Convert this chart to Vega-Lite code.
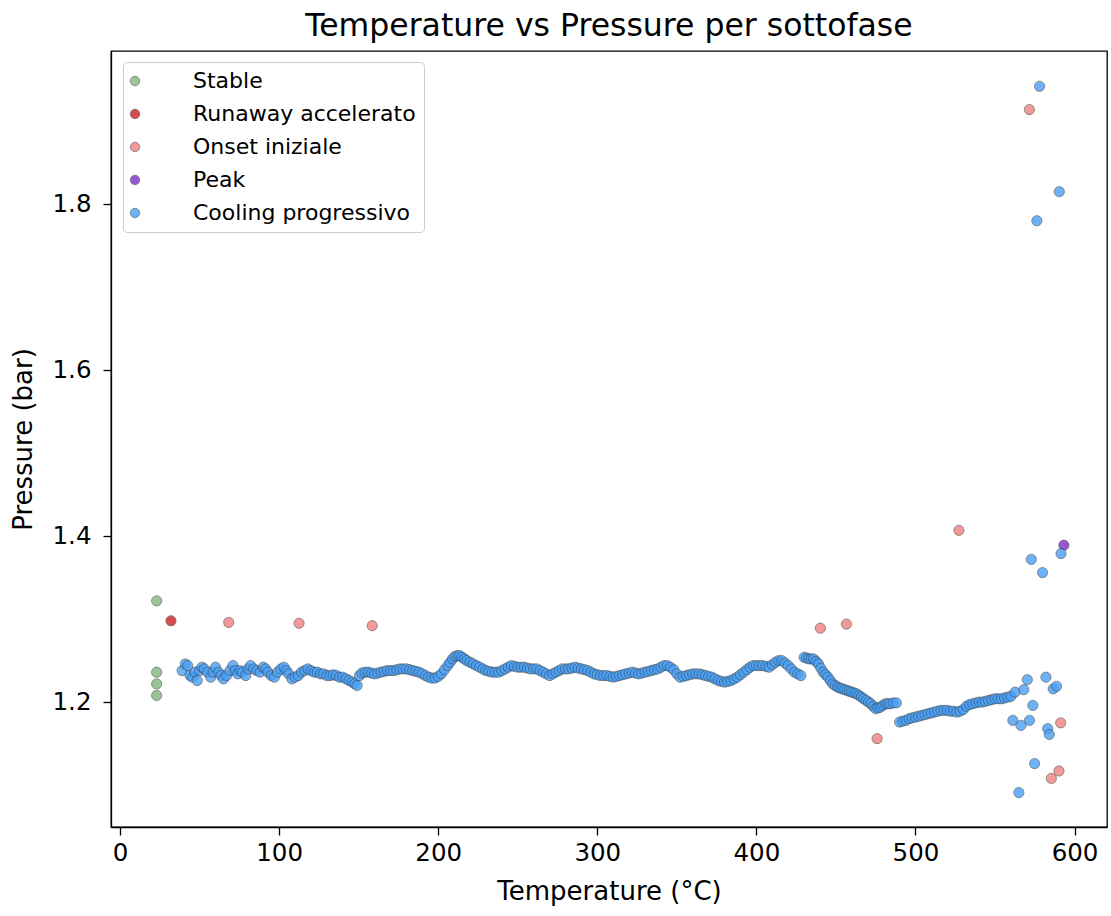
{
  "$schema": "https://vega.github.io/schema/vega-lite/v6.json",
  "autosize": {"type": "none"},
  "padding": {"left": 111, "top": 51, "right": 4, "bottom": 89},
  "width": 996,
  "height": 776,
  "background": "white",
  "config": {
    "font": "DejaVu Sans",
    "view": {"stroke": "black", "strokeWidth": 1.3}
  },
  "title": {"text": "Temperature vs Pressure per sottofase", "fontSize": 31.5, "fontWeight": "normal", "color": "black", "offset": 9, "font": "DejaVu Sans"},
  "data": {"values": [
    {"t": 23, "p": 1.322, "fase": "Stable"},
    {"t": 23, "p": 1.236, "fase": "Stable"},
    {"t": 23, "p": 1.222, "fase": "Stable"},
    {"t": 23, "p": 1.208, "fase": "Stable"},
    {"t": 32, "p": 1.298, "fase": "Runaway accelerato"},
    {"t": 68.3, "p": 1.296, "fase": "Onset iniziale"},
    {"t": 112.5, "p": 1.295, "fase": "Onset iniziale"},
    {"t": 158.5, "p": 1.292, "fase": "Onset iniziale"},
    {"t": 440.2, "p": 1.289, "fase": "Onset iniziale"},
    {"t": 456.6, "p": 1.294, "fase": "Onset iniziale"},
    {"t": 475.9, "p": 1.156, "fase": "Onset iniziale"},
    {"t": 527.3, "p": 1.407, "fase": "Onset iniziale"},
    {"t": 571.6, "p": 1.914, "fase": "Onset iniziale"},
    {"t": 585.4, "p": 1.108, "fase": "Onset iniziale"},
    {"t": 590.2, "p": 1.117, "fase": "Onset iniziale"},
    {"t": 591.3, "p": 1.175, "fase": "Onset iniziale"},
    {"t": 593.3, "p": 1.389, "fase": "Peak"},
    {"t": 39, "p": 1.238, "fase": "Cooling progressivo"},
    {"t": 41, "p": 1.246, "fase": "Cooling progressivo"},
    {"t": 42.5, "p": 1.244, "fase": "Cooling progressivo"},
    {"t": 44, "p": 1.232, "fase": "Cooling progressivo"},
    {"t": 45.5, "p": 1.230, "fase": "Cooling progressivo"},
    {"t": 47, "p": 1.236, "fase": "Cooling progressivo"},
    {"t": 48.5, "p": 1.226, "fase": "Cooling progressivo"},
    {"t": 50, "p": 1.238, "fase": "Cooling progressivo"},
    {"t": 51.5, "p": 1.242, "fase": "Cooling progressivo"},
    {"t": 53, "p": 1.240, "fase": "Cooling progressivo"},
    {"t": 55, "p": 1.236, "fase": "Cooling progressivo"},
    {"t": 57, "p": 1.230, "fase": "Cooling progressivo"},
    {"t": 58.5, "p": 1.236, "fase": "Cooling progressivo"},
    {"t": 60, "p": 1.242, "fase": "Cooling progressivo"},
    {"t": 62, "p": 1.236, "fase": "Cooling progressivo"},
    {"t": 63.5, "p": 1.232, "fase": "Cooling progressivo"},
    {"t": 65, "p": 1.228, "fase": "Cooling progressivo"},
    {"t": 67, "p": 1.232, "fase": "Cooling progressivo"},
    {"t": 69, "p": 1.238, "fase": "Cooling progressivo"},
    {"t": 71, "p": 1.244, "fase": "Cooling progressivo"},
    {"t": 72.5, "p": 1.238, "fase": "Cooling progressivo"},
    {"t": 74, "p": 1.234, "fase": "Cooling progressivo"},
    {"t": 75.5, "p": 1.238, "fase": "Cooling progressivo"},
    {"t": 77, "p": 1.236, "fase": "Cooling progressivo"},
    {"t": 79, "p": 1.232, "fase": "Cooling progressivo"},
    {"t": 80.5, "p": 1.240, "fase": "Cooling progressivo"},
    {"t": 82, "p": 1.244, "fase": "Cooling progressivo"},
    {"t": 84, "p": 1.240, "fase": "Cooling progressivo"},
    {"t": 86, "p": 1.238, "fase": "Cooling progressivo"},
    {"t": 88, "p": 1.236, "fase": "Cooling progressivo"},
    {"t": 90, "p": 1.242, "fase": "Cooling progressivo"},
    {"t": 91.5, "p": 1.240, "fase": "Cooling progressivo"},
    {"t": 93, "p": 1.236, "fase": "Cooling progressivo"},
    {"t": 95, "p": 1.232, "fase": "Cooling progressivo"},
    {"t": 97, "p": 1.230, "fase": "Cooling progressivo"},
    {"t": 99, "p": 1.236, "fase": "Cooling progressivo"},
    {"t": 101, "p": 1.240, "fase": "Cooling progressivo"},
    {"t": 103, "p": 1.242, "fase": "Cooling progressivo"},
    {"t": 104.5, "p": 1.238, "fase": "Cooling progressivo"},
    {"t": 106, "p": 1.234, "fase": "Cooling progressivo"},
    {"t": 108, "p": 1.228, "fase": "Cooling progressivo"},
    {"t": 110, "p": 1.230, "fase": "Cooling progressivo"},
    {"t": 112, "p": 1.232, "fase": "Cooling progressivo"},
    {"t": 114, "p": 1.236, "fase": "Cooling progressivo"},
    {"t": 116, "p": 1.238, "fase": "Cooling progressivo"},
    {"t": 118, "p": 1.240, "fase": "Cooling progressivo"},
    {"t": 120, "p": 1.238, "fase": "Cooling progressivo"},
    {"t": 122, "p": 1.236, "fase": "Cooling progressivo"},
    {"t": 124, "p": 1.236, "fase": "Cooling progressivo"},
    {"t": 126, "p": 1.234, "fase": "Cooling progressivo"},
    {"t": 128, "p": 1.234, "fase": "Cooling progressivo"},
    {"t": 130, "p": 1.232, "fase": "Cooling progressivo"},
    {"t": 132, "p": 1.232, "fase": "Cooling progressivo"},
    {"t": 134, "p": 1.233, "fase": "Cooling progressivo"},
    {"t": 136, "p": 1.232, "fase": "Cooling progressivo"},
    {"t": 138, "p": 1.230, "fase": "Cooling progressivo"},
    {"t": 140, "p": 1.230, "fase": "Cooling progressivo"},
    {"t": 142, "p": 1.228, "fase": "Cooling progressivo"},
    {"t": 144, "p": 1.226, "fase": "Cooling progressivo"},
    {"t": 146, "p": 1.224, "fase": "Cooling progressivo"},
    {"t": 147.5, "p": 1.222, "fase": "Cooling progressivo"},
    {"t": 149, "p": 1.220, "fase": "Cooling progressivo"},
    {"t": 150.5, "p": 1.232, "fase": "Cooling progressivo"},
    {"t": 152, "p": 1.235, "fase": "Cooling progressivo"},
    {"t": 154, "p": 1.236, "fase": "Cooling progressivo"},
    {"t": 156, "p": 1.236, "fase": "Cooling progressivo"},
    {"t": 158, "p": 1.235, "fase": "Cooling progressivo"},
    {"t": 160, "p": 1.234, "fase": "Cooling progressivo"},
    {"t": 162, "p": 1.235, "fase": "Cooling progressivo"},
    {"t": 164, "p": 1.236, "fase": "Cooling progressivo"},
    {"t": 166, "p": 1.237, "fase": "Cooling progressivo"},
    {"t": 168, "p": 1.238, "fase": "Cooling progressivo"},
    {"t": 170, "p": 1.238, "fase": "Cooling progressivo"},
    {"t": 172, "p": 1.238, "fase": "Cooling progressivo"},
    {"t": 174, "p": 1.239, "fase": "Cooling progressivo"},
    {"t": 176, "p": 1.240, "fase": "Cooling progressivo"},
    {"t": 178, "p": 1.240, "fase": "Cooling progressivo"},
    {"t": 180, "p": 1.240, "fase": "Cooling progressivo"},
    {"t": 182, "p": 1.239, "fase": "Cooling progressivo"},
    {"t": 184, "p": 1.238, "fase": "Cooling progressivo"},
    {"t": 186, "p": 1.237, "fase": "Cooling progressivo"},
    {"t": 188, "p": 1.236, "fase": "Cooling progressivo"},
    {"t": 190, "p": 1.234, "fase": "Cooling progressivo"},
    {"t": 192, "p": 1.232, "fase": "Cooling progressivo"},
    {"t": 194, "p": 1.230, "fase": "Cooling progressivo"},
    {"t": 196, "p": 1.229, "fase": "Cooling progressivo"},
    {"t": 198, "p": 1.229, "fase": "Cooling progressivo"},
    {"t": 200, "p": 1.231, "fase": "Cooling progressivo"},
    {"t": 202, "p": 1.234, "fase": "Cooling progressivo"},
    {"t": 204, "p": 1.239, "fase": "Cooling progressivo"},
    {"t": 206, "p": 1.244, "fase": "Cooling progressivo"},
    {"t": 207.5, "p": 1.248, "fase": "Cooling progressivo"},
    {"t": 209, "p": 1.252, "fase": "Cooling progressivo"},
    {"t": 210.5, "p": 1.255, "fase": "Cooling progressivo"},
    {"t": 212, "p": 1.256, "fase": "Cooling progressivo"},
    {"t": 213.5, "p": 1.256, "fase": "Cooling progressivo"},
    {"t": 215, "p": 1.254, "fase": "Cooling progressivo"},
    {"t": 216.5, "p": 1.252, "fase": "Cooling progressivo"},
    {"t": 218, "p": 1.250, "fase": "Cooling progressivo"},
    {"t": 220, "p": 1.248, "fase": "Cooling progressivo"},
    {"t": 222, "p": 1.246, "fase": "Cooling progressivo"},
    {"t": 224, "p": 1.244, "fase": "Cooling progressivo"},
    {"t": 226, "p": 1.242, "fase": "Cooling progressivo"},
    {"t": 228, "p": 1.240, "fase": "Cooling progressivo"},
    {"t": 230, "p": 1.238, "fase": "Cooling progressivo"},
    {"t": 232, "p": 1.237, "fase": "Cooling progressivo"},
    {"t": 234, "p": 1.236, "fase": "Cooling progressivo"},
    {"t": 236, "p": 1.236, "fase": "Cooling progressivo"},
    {"t": 238, "p": 1.236, "fase": "Cooling progressivo"},
    {"t": 240, "p": 1.238, "fase": "Cooling progressivo"},
    {"t": 242, "p": 1.240, "fase": "Cooling progressivo"},
    {"t": 244, "p": 1.242, "fase": "Cooling progressivo"},
    {"t": 246, "p": 1.244, "fase": "Cooling progressivo"},
    {"t": 248, "p": 1.243, "fase": "Cooling progressivo"},
    {"t": 250, "p": 1.242, "fase": "Cooling progressivo"},
    {"t": 252, "p": 1.242, "fase": "Cooling progressivo"},
    {"t": 254, "p": 1.242, "fase": "Cooling progressivo"},
    {"t": 256, "p": 1.241, "fase": "Cooling progressivo"},
    {"t": 258, "p": 1.240, "fase": "Cooling progressivo"},
    {"t": 260, "p": 1.240, "fase": "Cooling progressivo"},
    {"t": 262, "p": 1.240, "fase": "Cooling progressivo"},
    {"t": 264, "p": 1.238, "fase": "Cooling progressivo"},
    {"t": 266, "p": 1.236, "fase": "Cooling progressivo"},
    {"t": 268, "p": 1.234, "fase": "Cooling progressivo"},
    {"t": 270, "p": 1.232, "fase": "Cooling progressivo"},
    {"t": 272, "p": 1.234, "fase": "Cooling progressivo"},
    {"t": 274, "p": 1.236, "fase": "Cooling progressivo"},
    {"t": 276, "p": 1.238, "fase": "Cooling progressivo"},
    {"t": 278, "p": 1.240, "fase": "Cooling progressivo"},
    {"t": 280, "p": 1.240, "fase": "Cooling progressivo"},
    {"t": 282, "p": 1.240, "fase": "Cooling progressivo"},
    {"t": 284, "p": 1.241, "fase": "Cooling progressivo"},
    {"t": 286, "p": 1.242, "fase": "Cooling progressivo"},
    {"t": 288, "p": 1.241, "fase": "Cooling progressivo"},
    {"t": 290, "p": 1.240, "fase": "Cooling progressivo"},
    {"t": 292, "p": 1.239, "fase": "Cooling progressivo"},
    {"t": 294, "p": 1.238, "fase": "Cooling progressivo"},
    {"t": 296, "p": 1.236, "fase": "Cooling progressivo"},
    {"t": 298, "p": 1.234, "fase": "Cooling progressivo"},
    {"t": 300, "p": 1.233, "fase": "Cooling progressivo"},
    {"t": 302, "p": 1.232, "fase": "Cooling progressivo"},
    {"t": 304, "p": 1.232, "fase": "Cooling progressivo"},
    {"t": 306, "p": 1.232, "fase": "Cooling progressivo"},
    {"t": 308, "p": 1.231, "fase": "Cooling progressivo"},
    {"t": 310, "p": 1.230, "fase": "Cooling progressivo"},
    {"t": 312, "p": 1.231, "fase": "Cooling progressivo"},
    {"t": 314, "p": 1.232, "fase": "Cooling progressivo"},
    {"t": 316, "p": 1.233, "fase": "Cooling progressivo"},
    {"t": 318, "p": 1.234, "fase": "Cooling progressivo"},
    {"t": 320, "p": 1.235, "fase": "Cooling progressivo"},
    {"t": 322, "p": 1.236, "fase": "Cooling progressivo"},
    {"t": 324, "p": 1.235, "fase": "Cooling progressivo"},
    {"t": 326, "p": 1.234, "fase": "Cooling progressivo"},
    {"t": 328, "p": 1.235, "fase": "Cooling progressivo"},
    {"t": 330, "p": 1.236, "fase": "Cooling progressivo"},
    {"t": 332, "p": 1.237, "fase": "Cooling progressivo"},
    {"t": 334, "p": 1.238, "fase": "Cooling progressivo"},
    {"t": 336, "p": 1.239, "fase": "Cooling progressivo"},
    {"t": 338, "p": 1.240, "fase": "Cooling progressivo"},
    {"t": 340, "p": 1.242, "fase": "Cooling progressivo"},
    {"t": 342, "p": 1.244, "fase": "Cooling progressivo"},
    {"t": 344, "p": 1.244, "fase": "Cooling progressivo"},
    {"t": 346, "p": 1.242, "fase": "Cooling progressivo"},
    {"t": 348, "p": 1.239, "fase": "Cooling progressivo"},
    {"t": 350, "p": 1.234, "fase": "Cooling progressivo"},
    {"t": 352, "p": 1.230, "fase": "Cooling progressivo"},
    {"t": 354, "p": 1.231, "fase": "Cooling progressivo"},
    {"t": 356, "p": 1.232, "fase": "Cooling progressivo"},
    {"t": 358, "p": 1.233, "fase": "Cooling progressivo"},
    {"t": 360, "p": 1.234, "fase": "Cooling progressivo"},
    {"t": 362, "p": 1.234, "fase": "Cooling progressivo"},
    {"t": 364, "p": 1.234, "fase": "Cooling progressivo"},
    {"t": 366, "p": 1.233, "fase": "Cooling progressivo"},
    {"t": 368, "p": 1.232, "fase": "Cooling progressivo"},
    {"t": 370, "p": 1.231, "fase": "Cooling progressivo"},
    {"t": 372, "p": 1.230, "fase": "Cooling progressivo"},
    {"t": 374, "p": 1.228, "fase": "Cooling progressivo"},
    {"t": 376, "p": 1.226, "fase": "Cooling progressivo"},
    {"t": 378, "p": 1.225, "fase": "Cooling progressivo"},
    {"t": 380, "p": 1.224, "fase": "Cooling progressivo"},
    {"t": 382, "p": 1.225, "fase": "Cooling progressivo"},
    {"t": 384, "p": 1.226, "fase": "Cooling progressivo"},
    {"t": 386, "p": 1.228, "fase": "Cooling progressivo"},
    {"t": 388, "p": 1.230, "fase": "Cooling progressivo"},
    {"t": 390, "p": 1.233, "fase": "Cooling progressivo"},
    {"t": 392, "p": 1.236, "fase": "Cooling progressivo"},
    {"t": 394, "p": 1.239, "fase": "Cooling progressivo"},
    {"t": 396, "p": 1.242, "fase": "Cooling progressivo"},
    {"t": 398, "p": 1.244, "fase": "Cooling progressivo"},
    {"t": 400, "p": 1.244, "fase": "Cooling progressivo"},
    {"t": 402, "p": 1.244, "fase": "Cooling progressivo"},
    {"t": 404, "p": 1.244, "fase": "Cooling progressivo"},
    {"t": 406, "p": 1.243, "fase": "Cooling progressivo"},
    {"t": 408, "p": 1.242, "fase": "Cooling progressivo"},
    {"t": 410, "p": 1.245, "fase": "Cooling progressivo"},
    {"t": 412, "p": 1.248, "fase": "Cooling progressivo"},
    {"t": 414, "p": 1.250, "fase": "Cooling progressivo"},
    {"t": 416, "p": 1.250, "fase": "Cooling progressivo"},
    {"t": 418, "p": 1.247, "fase": "Cooling progressivo"},
    {"t": 420, "p": 1.244, "fase": "Cooling progressivo"},
    {"t": 422, "p": 1.240, "fase": "Cooling progressivo"},
    {"t": 424, "p": 1.236, "fase": "Cooling progressivo"},
    {"t": 426, "p": 1.234, "fase": "Cooling progressivo"},
    {"t": 428, "p": 1.232, "fase": "Cooling progressivo"},
    {"t": 430, "p": 1.254, "fase": "Cooling progressivo"},
    {"t": 431.5, "p": 1.253, "fase": "Cooling progressivo"},
    {"t": 433, "p": 1.252, "fase": "Cooling progressivo"},
    {"t": 434.5, "p": 1.252, "fase": "Cooling progressivo"},
    {"t": 436, "p": 1.252, "fase": "Cooling progressivo"},
    {"t": 437.5, "p": 1.249, "fase": "Cooling progressivo"},
    {"t": 439, "p": 1.246, "fase": "Cooling progressivo"},
    {"t": 440.5, "p": 1.241, "fase": "Cooling progressivo"},
    {"t": 442, "p": 1.236, "fase": "Cooling progressivo"},
    {"t": 443.5, "p": 1.233, "fase": "Cooling progressivo"},
    {"t": 445, "p": 1.230, "fase": "Cooling progressivo"},
    {"t": 446.5, "p": 1.226, "fase": "Cooling progressivo"},
    {"t": 448, "p": 1.222, "fase": "Cooling progressivo"},
    {"t": 449.5, "p": 1.220, "fase": "Cooling progressivo"},
    {"t": 451, "p": 1.218, "fase": "Cooling progressivo"},
    {"t": 452.5, "p": 1.217, "fase": "Cooling progressivo"},
    {"t": 454, "p": 1.216, "fase": "Cooling progressivo"},
    {"t": 455.5, "p": 1.215, "fase": "Cooling progressivo"},
    {"t": 457, "p": 1.214, "fase": "Cooling progressivo"},
    {"t": 458.5, "p": 1.213, "fase": "Cooling progressivo"},
    {"t": 460, "p": 1.212, "fase": "Cooling progressivo"},
    {"t": 461.5, "p": 1.211, "fase": "Cooling progressivo"},
    {"t": 463, "p": 1.210, "fase": "Cooling progressivo"},
    {"t": 464.5, "p": 1.208, "fase": "Cooling progressivo"},
    {"t": 466, "p": 1.206, "fase": "Cooling progressivo"},
    {"t": 467.5, "p": 1.204, "fase": "Cooling progressivo"},
    {"t": 469, "p": 1.202, "fase": "Cooling progressivo"},
    {"t": 470.5, "p": 1.200, "fase": "Cooling progressivo"},
    {"t": 472, "p": 1.198, "fase": "Cooling progressivo"},
    {"t": 473.5, "p": 1.195, "fase": "Cooling progressivo"},
    {"t": 475, "p": 1.192, "fase": "Cooling progressivo"},
    {"t": 476.5, "p": 1.193, "fase": "Cooling progressivo"},
    {"t": 478, "p": 1.194, "fase": "Cooling progressivo"},
    {"t": 479.5, "p": 1.196, "fase": "Cooling progressivo"},
    {"t": 481, "p": 1.198, "fase": "Cooling progressivo"},
    {"t": 482.5, "p": 1.198, "fase": "Cooling progressivo"},
    {"t": 484, "p": 1.198, "fase": "Cooling progressivo"},
    {"t": 486, "p": 1.199, "fase": "Cooling progressivo"},
    {"t": 488, "p": 1.199, "fase": "Cooling progressivo"},
    {"t": 490, "p": 1.176, "fase": "Cooling progressivo"},
    {"t": 492, "p": 1.177, "fase": "Cooling progressivo"},
    {"t": 494, "p": 1.178, "fase": "Cooling progressivo"},
    {"t": 496, "p": 1.180, "fase": "Cooling progressivo"},
    {"t": 498, "p": 1.181, "fase": "Cooling progressivo"},
    {"t": 500, "p": 1.182, "fase": "Cooling progressivo"},
    {"t": 502, "p": 1.183, "fase": "Cooling progressivo"},
    {"t": 504, "p": 1.184, "fase": "Cooling progressivo"},
    {"t": 506, "p": 1.185, "fase": "Cooling progressivo"},
    {"t": 508, "p": 1.186, "fase": "Cooling progressivo"},
    {"t": 510, "p": 1.187, "fase": "Cooling progressivo"},
    {"t": 512, "p": 1.188, "fase": "Cooling progressivo"},
    {"t": 514, "p": 1.189, "fase": "Cooling progressivo"},
    {"t": 516, "p": 1.190, "fase": "Cooling progressivo"},
    {"t": 518, "p": 1.190, "fase": "Cooling progressivo"},
    {"t": 520, "p": 1.190, "fase": "Cooling progressivo"},
    {"t": 522, "p": 1.189, "fase": "Cooling progressivo"},
    {"t": 524, "p": 1.189, "fase": "Cooling progressivo"},
    {"t": 526, "p": 1.188, "fase": "Cooling progressivo"},
    {"t": 528, "p": 1.189, "fase": "Cooling progressivo"},
    {"t": 530, "p": 1.191, "fase": "Cooling progressivo"},
    {"t": 532, "p": 1.195, "fase": "Cooling progressivo"},
    {"t": 534, "p": 1.197, "fase": "Cooling progressivo"},
    {"t": 536, "p": 1.198, "fase": "Cooling progressivo"},
    {"t": 538, "p": 1.199, "fase": "Cooling progressivo"},
    {"t": 540, "p": 1.200, "fase": "Cooling progressivo"},
    {"t": 542, "p": 1.200, "fase": "Cooling progressivo"},
    {"t": 544, "p": 1.201, "fase": "Cooling progressivo"},
    {"t": 546, "p": 1.202, "fase": "Cooling progressivo"},
    {"t": 548, "p": 1.203, "fase": "Cooling progressivo"},
    {"t": 550, "p": 1.204, "fase": "Cooling progressivo"},
    {"t": 552, "p": 1.204, "fase": "Cooling progressivo"},
    {"t": 554, "p": 1.204, "fase": "Cooling progressivo"},
    {"t": 556, "p": 1.205, "fase": "Cooling progressivo"},
    {"t": 558, "p": 1.206, "fase": "Cooling progressivo"},
    {"t": 560, "p": 1.207, "fase": "Cooling progressivo"},
    {"t": 561.2, "p": 1.178, "fase": "Cooling progressivo"},
    {"t": 562.6, "p": 1.212, "fase": "Cooling progressivo"},
    {"t": 565, "p": 1.091, "fase": "Cooling progressivo"},
    {"t": 566.3, "p": 1.172, "fase": "Cooling progressivo"},
    {"t": 568.1, "p": 1.215, "fase": "Cooling progressivo"},
    {"t": 570.3, "p": 1.227, "fase": "Cooling progressivo"},
    {"t": 571.7, "p": 1.178, "fase": "Cooling progressivo"},
    {"t": 572.8, "p": 1.372, "fase": "Cooling progressivo"},
    {"t": 573.8, "p": 1.196, "fase": "Cooling progressivo"},
    {"t": 574.9, "p": 1.126, "fase": "Cooling progressivo"},
    {"t": 576.3, "p": 1.780, "fase": "Cooling progressivo"},
    {"t": 578, "p": 1.942, "fase": "Cooling progressivo"},
    {"t": 579.9, "p": 1.356, "fase": "Cooling progressivo"},
    {"t": 582, "p": 1.230, "fase": "Cooling progressivo"},
    {"t": 583.1, "p": 1.168, "fase": "Cooling progressivo"},
    {"t": 584.1, "p": 1.161, "fase": "Cooling progressivo"},
    {"t": 586.6, "p": 1.216, "fase": "Cooling progressivo"},
    {"t": 588.7, "p": 1.219, "fase": "Cooling progressivo"},
    {"t": 590.4, "p": 1.815, "fase": "Cooling progressivo"},
    {"t": 591.5, "p": 1.379, "fase": "Cooling progressivo"}
  ]},
  "mark": {"type": "circle", "size": 105, "opacity": 0.8, "stroke": "#333333", "strokeWidth": 0.6},
  "encoding": {
    "x": {
      "field": "t", "type": "quantitative",
      "scale": {"domain": [-5.7, 620.4], "nice": false, "zero": false},
      "axis": {"title": "Temperature (°C)", "values": [0, 100, 200, 300, 400, 500, 600], "grid": false,
        "domainColor": "black", "domainWidth": 1.3, "tickColor": "black", "tickWidth": 1.3, "tickSize": 8, "labelFontSize": 24.5, "labelColor": "black",
        "labelPadding": 6, "titleFontSize": 26, "titleFontWeight": "normal", "titleColor": "black", "titlePadding": 14}
    },
    "y": {
      "field": "p", "type": "quantitative",
      "scale": {"domain": [1.0495, 1.9845], "nice": false, "zero": false},
      "axis": {"title": "Pressure (bar)", "values": [1.2, 1.4, 1.6, 1.8], "format": ".1f", "grid": false,
        "domainColor": "black", "domainWidth": 1.3, "tickColor": "black", "tickWidth": 1.3, "tickSize": 8, "labelFontSize": 24.5, "labelColor": "black",
        "labelPadding": 12, "titleFontSize": 26, "titleFontWeight": "normal", "titleColor": "black", "titlePadding": 16}
    },
    "color": {
      "field": "fase", "type": "nominal",
      "scale": {
        "domain": ["Stable", "Runaway accelerato", "Onset iniziale", "Peak", "Cooling progressivo"],
        "range": ["#7fb87f", "#cc1f1f", "#f08080", "#7d2fc2", "#4aa0f5"]
      },
      "legend": {
        "title": null, "orient": "none", "legendX": 12, "legendY": 11,
        "labelFontSize": 22, "labelColor": "black", "labelOffset": 47, "labelLimit": 0, "symbolSize": 90,
        "symbolOffset": -7,
        "symbolOpacity": 0.8, "symbolStrokeColor": "#333333", "symbolStrokeWidth": 0.6,
        "rowPadding": 11, "padding": 8, "strokeColor": "#cccccc", "fillColor": "white", "cornerRadius": 4
      }
    }
  }
}
